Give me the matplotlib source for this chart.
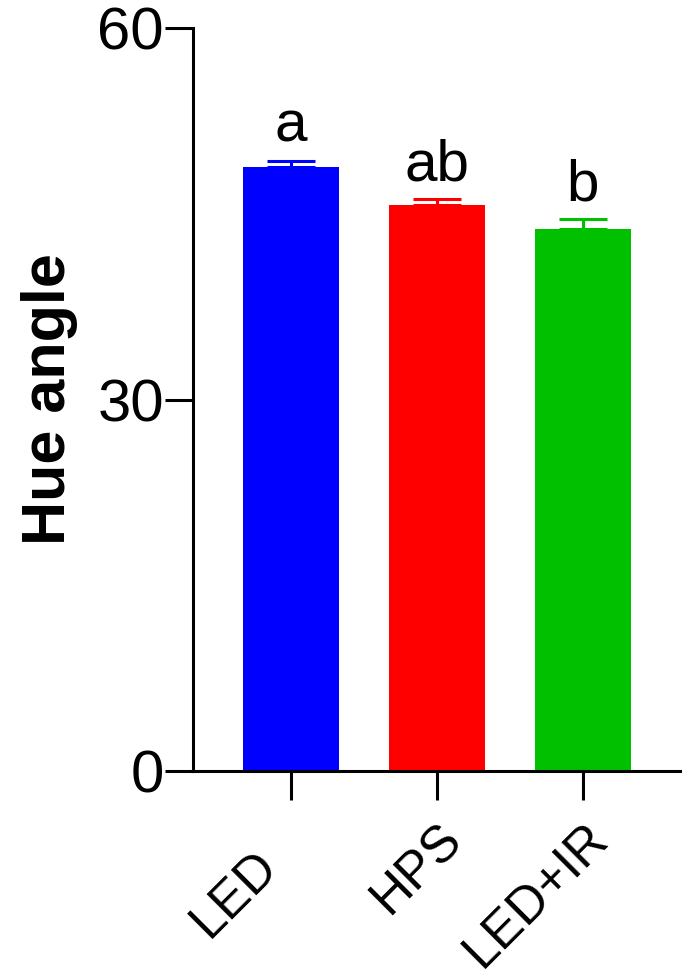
import matplotlib.pyplot as plt
import matplotlib.transforms as mtransforms
import numpy as np

plt.rcParams["font.family"] = ["Liberation Sans", "DejaVu Sans"]

groups = ["LED", "HPS", "LED+IR"]
means = [48.8, 45.7, 43.75]
errs = [0.48, 0.46, 0.8]
letters = ["a", "ab", "b"]
colors = ["#0000ff", "#ff0000", "#00c000"]

fig = plt.figure(figsize=(6.82, 9.77), dpi=100)
ax = fig.add_axes([0.283, 0.2108, 0.717, 0.7605])

x = np.arange(len(groups))
for i in range(len(groups)):
    ax.bar(x[i], means[i], width=0.66, color=colors[i], zorder=2)
    ax.errorbar(x[i], means[i], yerr=[[0], [errs[i]]], fmt="none",
                ecolor=colors[i], elinewidth=2.2, capsize=17, capthick=2.2,
                zorder=3)
    ax.annotate(letters[i], (x[i], means[i] + errs[i]), xytext=(0, 5),
                textcoords="offset points", ha="center", va="bottom",
                fontsize=42)

ax.set_xlim(-0.67, 2.68)
ax.set_ylim(0, 60)
ax.set_yticks([0, 30, 60])
ax.set_xticks(x)
ax.set_xticklabels(groups, rotation=45, ha="right", rotation_mode="anchor",
                   fontsize=37)
ax.tick_params(axis="y", labelsize=43, length=20, width=2.2, pad=1)
ax.tick_params(axis="x", length=21, width=2.2, pad=10)

# first label sits lower/left in the original
lbl = ax.get_xticklabels()[0]
lbl.set_transform(lbl.get_transform() +
                  mtransforms.ScaledTranslation(-0.38, -0.27, fig.dpi_scale_trans))

for s in ["top", "right"]:
    ax.spines[s].set_visible(False)
for s in ["left", "bottom"]:
    ax.spines[s].set_linewidth(2.2)

ax.set_ylabel("Hue angle", fontsize=44, fontweight="bold", labelpad=14)

fig.savefig("out.png", dpi=100)
